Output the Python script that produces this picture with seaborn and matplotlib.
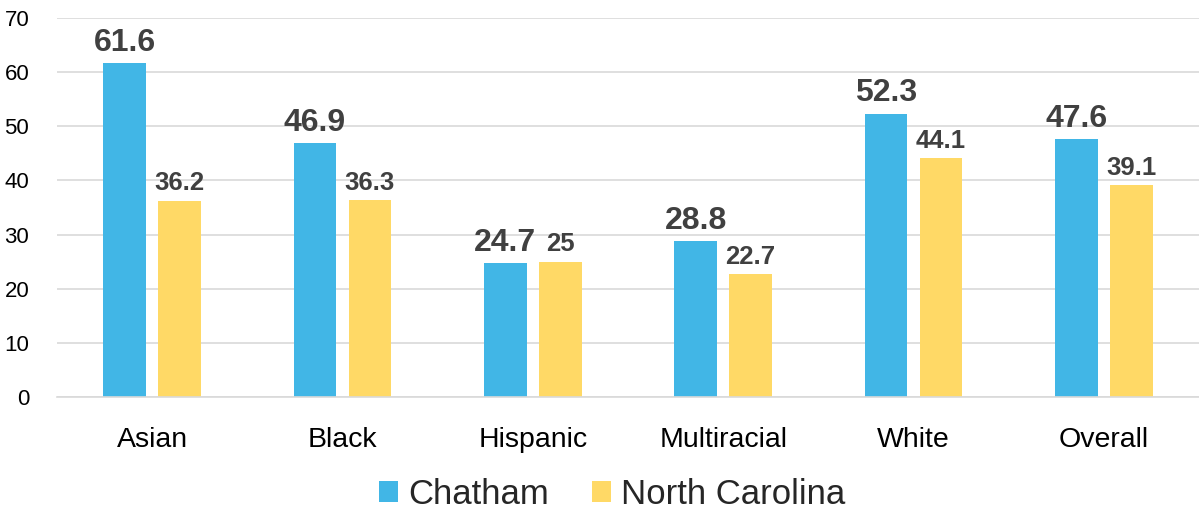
import numpy as np
import pandas as pd
import matplotlib.pyplot as plt
import seaborn as sns

# Chart data
groups = ['Asian', 'Black', 'Hispanic', 'Multiracial', 'White', 'Overall']
chatham = [61.6, 46.9, 24.7, 28.8, 52.3, 47.6]
north_carolina = [36.2, 36.3, 25, 22.7, 44.1, 39.1]
series = ['Chatham', 'North Carolina']
colors = ['#41B6E6', '#FFD966']

df = pd.DataFrame({
    'group': groups * 2,
    'value': chatham + north_carolina,
    'area': [series[0]] * len(groups) + [series[1]] * len(groups),
})

sns.set_style('white')
plt.rcParams['font.family'] = ['Liberation Sans', 'DejaVu Sans']

fig = plt.figure(figsize=(11.99, 5.08), dpi=100)
ax = fig.add_axes([0.0475, 0.2185, 0.9525, 0.7461])

sns.barplot(data=df, x='group', y='value', hue='area', palette=colors,
            saturation=1, width=0.577, gap=0.22, linewidth=0,
            ax=ax, legend=True)

ax.set_ylim(0, 70)
ax.set_yticks(range(0, 71, 10))
ax.set_xlim(-0.5, len(groups) - 0.5)
ax.yaxis.grid(True, color='#d9d9d9', linewidth=1.2)
ax.set_axisbelow(True)
for s in ['top', 'right', 'left']:
    ax.spines[s].set_visible(False)
ax.spines['bottom'].set_color('#d9d9d9')
ax.spines['bottom'].set_linewidth(1.2)
ax.set_xlabel('')
ax.set_ylabel('')
ax.tick_params(axis='x', labelsize=20.5, pad=21.5, length=0, colors='black')
ax.tick_params(axis='y', labelsize=16, pad=20, length=0, colors='black')

# value labels
sizes = [23, 18.5]
for cont, fs in zip(ax.containers, sizes):
    labels = [f'{v:g}' for v in cont.datavalues]
    ax.bar_label(cont, labels=labels, padding=4, fontsize=fs,
                 fontweight='bold', color='#404040')

handles, labels = ax.get_legend_handles_labels()
ax.legend(handles, labels, loc='lower center', bbox_to_anchor=(0.486, -0.382),
          ncol=2, frameon=False, fontsize=25, handlelength=0.55,
          handleheight=0.55, handletextpad=0.29, columnspacing=1.24)

fig.savefig('out.png', dpi=100)
